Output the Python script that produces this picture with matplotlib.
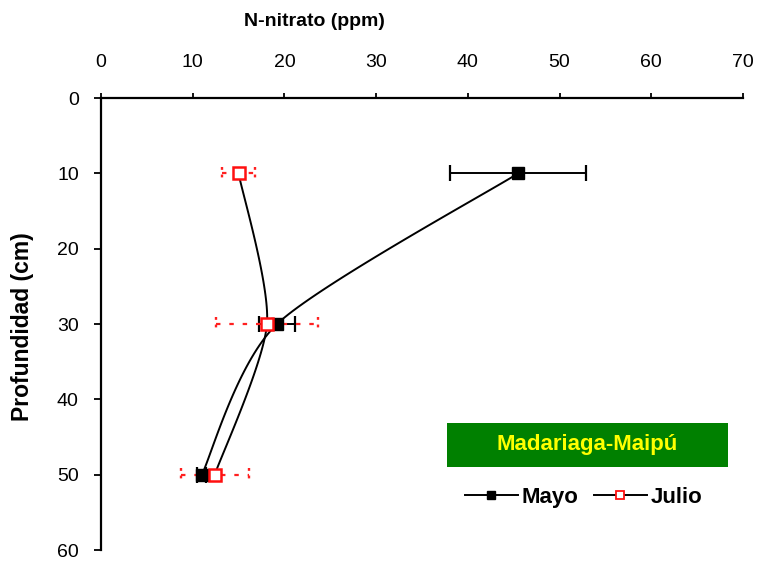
import numpy as np
import matplotlib
matplotlib.use("Agg")
import matplotlib.pyplot as plt
from matplotlib.lines import Line2D
from matplotlib.patches import Rectangle

plt.rcParams['font.family'] = ['Liberation Sans', 'DejaVu Sans']

# data
depth = [10, 30, 50]
mayo = [45.5, 19.2, 11.0]
mayo_err = [7.4, 2.0, 0.5]
julio = [15.0, 18.1, 12.4]
julio_err = [1.8, 5.6, 3.7]
x_ticks = [0, 10, 20, 30, 40, 50, 60, 70]
y_ticks = [0, 10, 20, 30, 40, 50, 60]


def smooth(xs, ys, tension=0.38, n=40):
    # cubic bezier through the points (Excel-like smoothed line, softer tangents)
    p = np.column_stack([xs, ys]).astype(float)
    out = []
    for i in range(len(p) - 1):
        p0 = p[i - 1] if i > 0 else p[i]
        p3 = p[i + 2] if i + 2 < len(p) else p[i + 1]
        p1, p2 = p[i], p[i + 1]
        c1 = p1 + tension * (p2 - p0) / 3
        c2 = p2 - tension * (p3 - p1) / 3
        t = np.linspace(0, 1, n)[:, None]
        seg = ((1 - t) ** 3 * p1 + 3 * (1 - t) ** 2 * t * c1
               + 3 * (1 - t) * t ** 2 * c2 + t ** 3 * p2)
        out.append(seg)
    c = np.vstack(out)
    return c[:, 0], c[:, 1]


fig = plt.figure(figsize=(7.57, 5.61), dpi=100)
ax = fig.add_axes([0.1334, 0.0196, 0.848, 0.8057])

# smoothed lines
sx, sy = smooth(mayo, depth)
ax.plot(sx, sy, color='black', lw=1.4, zorder=2)
sx, sy = smooth(julio, depth)
ax.plot(sx, sy, color='black', lw=1.4, zorder=2)

# Mayo error bars (solid black)
ax.errorbar(mayo, depth, xerr=mayo_err, fmt='none', ecolor='black', elinewidth=1.4,
            capsize=6, capthick=1.6, zorder=3)

# Julio error bars (dotted red, dotted caps)
jl = np.array(julio) - np.array(julio_err)
jr = np.array(julio) + np.array(julio_err)
ax.hlines(depth, jl, jr, colors='#ff2020', linestyles=(0, (2, 4)), lw=1.6, zorder=3)
d = np.array(depth)
ax.vlines(jl, d - 0.9, d + 0.9, colors='#ff2020', linestyles=(0, (1.2, 2)), lw=1.7, zorder=3)
ax.vlines(jr, d - 0.9, d + 0.9, colors='#ff2020', linestyles=(0, (1.2, 2)), lw=1.7, zorder=3)

ax.plot(mayo, depth, ls='none', marker='s', ms=8, color='black', zorder=4)
ax.plot(julio, depth, ls='none', marker='s', ms=9, mfc='white', mec='#ff1010', mew=1.8, zorder=5)

ax.set_xlim(0, 70)
ax.set_ylim(60, 0)
ax.set_xticks(x_ticks)
ax.set_yticks(y_ticks)
ax.xaxis.tick_top()
ax.tick_params(axis='x', direction='out', length=3.5, width=1.3, pad=16, labelsize=14, colors='black')
ax.tick_params(axis='y', direction='out', length=5, width=1.3, pad=11, labelsize=14)
for s in ['right', 'bottom']:
    ax.spines[s].set_visible(False)
for s in ['top', 'left']:
    ax.spines[s].set_linewidth(1.6)

fig.text(0.416, 0.962, 'N-nitrato (ppm)', ha='center', va='center', fontsize=14,
         fontweight='bold')
fig.text(0.03, 0.417, 'Profundidad (cm)', ha='center', va='center', rotation=90,
         fontsize=16.5, fontweight='bold')

# site label box
fig.patches.append(Rectangle((0.5905, 0.1676), 0.371, 0.0784, transform=fig.transFigure,
                             facecolor='#008000', edgecolor='none'))
fig.text(0.776, 0.207, 'Madariaga-Maipú', ha='center', va='center', fontsize=16,
         fontweight='bold', color='#ffff00')

handles = [
    Line2D([], [], color='black', lw=1.4, marker='s', ms=6, mfc='black'),
    Line2D([], [], color='black', lw=1.4, marker='s', ms=6, mfc='white', mec='#ff1010', mew=1.3),
]
leg = ax.legend(handles, ['Mayo', 'Julio'], ncol=2, frameon=False, loc='center',
                bbox_to_anchor=(0.7705, 0.114), bbox_transform=fig.transFigure,
                handlelength=2.4, handletextpad=0.15, columnspacing=0.7,
                prop={'weight': 'bold', 'size': 16})

fig.savefig('out.png', dpi=100)
